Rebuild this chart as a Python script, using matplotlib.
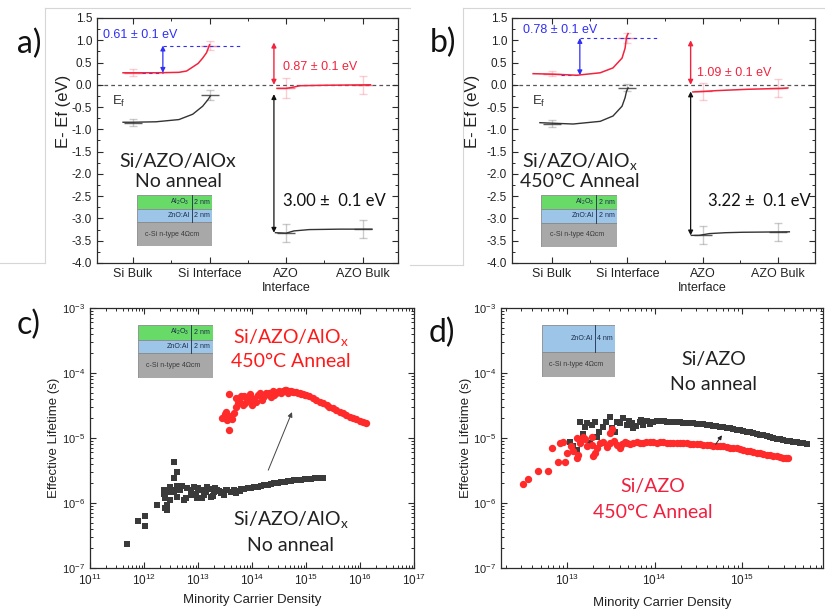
import numpy as np
import matplotlib
matplotlib.use('Agg')
import matplotlib.pyplot as plt
from matplotlib.patches import Rectangle
from matplotlib.lines import Line2D
from matplotlib.ticker import MultipleLocator, FixedLocator, LogLocator, NullFormatter, FormatStrFormatter

plt.rcParams['font.family'] = ['Liberation Sans', 'DejaVu Sans']
plt.rcParams['mathtext.fontset'] = 'custom'
plt.rcParams['mathtext.rm'] = 'Liberation Sans'
plt.rcParams['mathtext.it'] = 'Liberation Sans:italic'
plt.rcParams['mathtext.bf'] = 'Liberation Sans:bold'

# ---------------- data ----------------
categories = ['Si Bulk', 'Si Interface', 'AZO\nInterface', 'AZO Bulk']
cat_pos = [1, 2, 3, 4]

# panel a (no anneal) band diagram
a_si_cb_x = [0.87, 1.0, 1.3, 1.6, 1.7, 1.78, 1.85, 1.91, 1.96, 2.0]
a_si_cb_y = [0.27, 0.27, 0.27, 0.28, 0.31, 0.40, 0.48, 0.60, 0.72, 0.90]
a_si_vb_x = [0.87, 1.0, 1.3, 1.6, 1.78, 1.91, 1.98, 2.01]
a_si_vb_y = [-0.84, -0.84, -0.83, -0.78, -0.66, -0.48, -0.33, -0.25]
a_azo_cb_x = [2.88, 3.0, 3.1, 3.18, 3.5, 4.1]
a_azo_cb_y = [-0.08, -0.08, -0.05, -0.02, -0.01, 0.0]
a_azo_vb_x = [2.86, 3.0, 3.1, 3.3, 3.7, 4.12]
a_azo_vb_y = [-3.32, -3.33, -3.28, -3.25, -3.24, -3.24]
a_red_pts = [0.27, 0.88, -0.07, 0.0]
a_red_err = [0.08, 0.10, 0.22, 0.20]
a_blk_pts = [-0.85, -0.23, -3.32, -3.24]
a_blk_err = [0.08, 0.12, 0.20, 0.20]
a_values = ['0.61', '0.87', '3.00']

# panel b (450C anneal) band diagram
b_si_cb_x = [0.75, 1.0, 1.33, 1.64, 1.81, 1.93, 1.97, 1.99, 2.01]
b_si_cb_y = [0.25, 0.24, 0.215, 0.27, 0.38, 0.60, 0.82, 1.08, 1.15]
b_si_vb_x = [0.84, 1.28, 1.64, 1.81, 1.93, 1.97, 1.99, 2.01]
b_si_vb_y = [-0.85, -0.88, -0.82, -0.70, -0.48, -0.29, -0.14, -0.07]
b_azo_cb_x = [2.87, 3.0, 3.19, 3.6, 4.06, 4.13]
b_azo_cb_y = [-0.16, -0.15, -0.13, -0.10, -0.08, -0.07]
b_azo_vb_x = [2.85, 2.95, 3.09, 3.3, 3.53, 4.15]
b_azo_vb_y = [-3.38, -3.38, -3.34, -3.32, -3.31, -3.30]
b_red_pts = [0.25, 1.05, -0.15, -0.07]
b_red_err = [0.06, 0.12, 0.20, 0.20]
b_blk_pts = [-0.87, -0.07, -3.37, -3.30]
b_blk_err = [0.08, 0.08, 0.20, 0.20]
b_values = ['0.78', '1.09', '3.22']

# panel c lifetime: Si/AZO/AlOx
c_anneal_pts = [
    (2.8e13, 2.0e-5), (3.1e13, 2.3e-5), (3.5e13, 1.9e-5), (4.0e13, 2.2e-5), (4.7e13, 2.4e-5),
    (3.8e13, 1.33e-5), (3.7e13, 4.7e-5), (3.0e13, 2.1e-5), (3.3e13, 2.5e-5), (4.3e13, 1.95e-5),
    (5.0e13, 3.0e-5), (5.4e13, 3.4e-5), (5.0e13, 4.1e-5), (5.8e13, 3.7e-5), (6.2e13, 4.4e-5),
    (6.7e13, 3.2e-5), (7.0e13, 4.5e-5), (7.5e13, 3.5e-5), (8.3e13, 3.8e-5), (9.0e13, 4.8e-5),
    (9.5e13, 4.3e-5), (1.0e14, 3.2e-5), (1.1e14, 4.0e-5), (1.2e14, 3.6e-5), (1.3e14, 4.6e-5),
    (1.4e14, 4.9e-5), (1.5e14, 3.9e-5), (1.6e14, 4.2e-5), (1.7e14, 4.4e-5), (1.8e14, 5.0e-5),
    (1.95e14, 4.75e-5), (2.1e14, 4.9e-5), (2.25e14, 4.3e-5), (2.4e14, 5.2e-5), (2.6e14, 4.6e-5),
    (2.8e14, 5.0e-5), (3.0e14, 5.1e-5), (3.2e14, 5.35e-5), (3.5e14, 4.9e-5), (3.7e14, 5.2e-5),
    (4.0e14, 5.4e-5), (4.3e14, 5.45e-5), (4.6e14, 5.0e-5), (4.9e14, 5.2e-5), (5.3e14, 5.3e-5),
    (5.7e14, 5.05e-5), (6.1e14, 5.1e-5), (6.6e14, 5.05e-5), (7.1e14, 5.0e-5), (7.6e14, 4.9e-5),
    (8.2e14, 4.8e-5), (8.8e14, 4.7e-5), (9.4e14, 4.6e-5), (1.0e15, 4.55e-5), (1.16e15, 4.35e-5),
    (1.34e15, 4.1e-5), (1.55e15, 3.85e-5), (1.8e15, 3.6e-5), (2.06e15, 3.4e-5), (2.4e15, 3.2e-5),
    (2.7e15, 3.0e-5), (3.2e15, 2.85e-5), (3.65e15, 2.7e-5), (4.2e15, 2.55e-5), (4.9e15, 2.4e-5),
    (5.6e15, 2.25e-5), (6.5e15, 2.13e-5), (7.5e15, 2.03e-5), (8.6e15, 1.94e-5), (9.9e15, 1.85e-5),
    (1.15e16, 1.76e-5), (1.3e16, 1.7e-5)]
c_noanneal_pts = [
    (4.8e11, 2.3e-7), (7.9e11, 5.3e-7), (1.06e12, 6.4e-7), (1.06e12, 4.4e-7), (1.74e12, 9.3e-7),
    (2.3e12, 1.4e-6), (2.4e12, 8.5e-7), (2.5e12, 1.18e-6), (2.32e12, 1.58e-6), (2.68e12, 9.3e-7),
    (2.68e12, 7.8e-7), (2.88e12, 1.49e-6), (3.0e12, 1.1e-6), (3.09e12, 1.78e-6), (3.3e12, 1.6e-6),
    (3.56e12, 4.2e-6), (4.11e12, 3.0e-6), (3.56e12, 2.4e-6), (3.56e12, 1.49e-6), (4.0e12, 1.8e-6),
    (4.11e12, 1.25e-6), (4.74e12, 1.58e-6), (5.0e12, 1.8e-6), (5.47e12, 1.11e-6), (6.0e12, 1.2e-6),
    (6.31e12, 1.68e-6), (7.28e12, 1.33e-6), (7.5e12, 1.6e-6), (8.4e12, 1.78e-6), (9.0e12, 1.4e-6),
    (9.7e12, 1.18e-6), (1.0e13, 1.7e-6), (1.12e13, 1.58e-6), (1.2e13, 1.2e-6), (1.29e13, 1.33e-6),
    (1.4e13, 1.5e-6), (1.48e13, 1.78e-6), (1.6e13, 1.65e-6), (1.72e13, 1.25e-6), (1.9e13, 1.3e-6),
    (1.98e13, 1.49e-6), (2.1e13, 1.7e-6), (2.29e13, 1.58e-6), (2.5e13, 1.55e-6), (2.64e13, 1.41e-6),
    (3.0e13, 1.35e-6), (3.04e13, 1.49e-6), (3.3e13, 1.6e-6), (3.51e13, 1.58e-6), (4.05e13, 1.49e-6),
    (4.67e13, 1.58e-6), (5.0e13, 1.45e-6), (5.4e13, 1.55e-6), (6.0e13, 1.52e-6), (6.2e13, 1.64e-6),
    (7.2e13, 1.66e-6), (8.26e13, 1.68e-6), (9.5e13, 1.7e-6), (1.1e14, 1.74e-6), (1.27e14, 1.78e-6),
    (1.47e14, 1.83e-6), (1.69e14, 1.87e-6), (1.95e14, 1.91e-6), (2.25e14, 1.96e-6), (2.6e14, 2.01e-6),
    (3.0e14, 2.05e-6), (3.45e14, 2.08e-6), (4.0e14, 2.12e-6), (4.6e14, 2.15e-6), (5.3e14, 2.19e-6),
    (6.1e14, 2.23e-6), (7.0e14, 2.26e-6), (8.1e14, 2.29e-6), (9.4e14, 2.31e-6), (1.08e15, 2.34e-6),
    (1.25e15, 2.37e-6), (1.44e15, 2.4e-6), (1.6e15, 2.41e-6), (1.79e15, 2.42e-6), (2.06e15, 2.45e-6)]

# panel d lifetime: Si/AZO
d_noanneal_pts = [
    (1.08e13, 8.8e-6), (1.18e13, 7.4e-6), (1.29e13, 6.5e-6), (1.41e13, 1.78e-5), (1.54e13, 1.15e-5),
    (1.61e13, 1.49e-5), (1.7e13, 1.7e-5), (1.83e13, 8.3e-6), (1.92e13, 1.58e-5), (2.09e13, 1.78e-5),
    (2.18e13, 1.05e-5), (2.3e13, 1.25e-5), (2.6e13, 1.49e-5), (2.8e13, 1.75e-5), (3.1e13, 2.13e-5),
    (3.24e13, 1.41e-5), (3.5e13, 1.25e-5), (3.7e13, 1.78e-5), (4.0e13, 1.7e-5), (4.41e13, 2.01e-5),
    (4.81e13, 1.58e-5), (5.1e13, 1.85e-5), (5.48e13, 1.68e-5), (5.73e13, 1.41e-5), (6.2e13, 1.55e-5),
    (6.83e13, 1.78e-5), (7.0e13, 1.9e-5), (7.45e13, 1.58e-5), (8.13e13, 1.85e-5), (8.8e13, 1.65e-5),
    (9.7e13, 1.74e-5), (1.06e14, 1.8e-5), (1.16e14, 1.83e-5), (1.27e14, 1.8e-5), (1.38e14, 1.78e-5),
    (1.5e14, 1.77e-5), (1.64e14, 1.76e-5), (1.8e14, 1.75e-5), (1.95e14, 1.74e-5), (2.13e14, 1.73e-5),
    (2.33e14, 1.72e-5), (2.55e14, 1.7e-5), (2.78e14, 1.68e-5), (3.03e14, 1.66e-5), (3.31e14, 1.64e-5),
    (3.62e14, 1.62e-5), (3.95e14, 1.6e-5), (4.3e14, 1.58e-5), (4.7e14, 1.55e-5), (5.1e14, 1.52e-5),
    (5.61e14, 1.49e-5), (6.1e14, 1.47e-5), (6.68e14, 1.44e-5), (7.3e14, 1.41e-5), (7.96e14, 1.38e-5),
    (8.7e14, 1.35e-5), (9.5e14, 1.31e-5), (1.04e15, 1.28e-5), (1.13e15, 1.25e-5), (1.23e15, 1.22e-5),
    (1.35e15, 1.19e-5), (1.47e15, 1.15e-5), (1.61e15, 1.12e-5), (1.75e15, 1.1e-5), (1.91e15, 1.07e-5),
    (2.09e15, 1.04e-5), (2.28e15, 1.01e-5), (2.49e15, 9.8e-6), (2.72e15, 9.5e-6), (2.97e15, 9.3e-6),
    (3.24e15, 9.1e-6), (3.54e15, 8.9e-6), (3.86e15, 8.7e-6), (4.2e15, 8.55e-6), (4.6e15, 8.4e-6),
    (5.0e15, 8.25e-6), (5.48e15, 8.1e-6)]
d_anneal_pts = [
    (3.17e12, 1.94e-6), (3.61e12, 2.31e-6), (4.7e12, 3.1e-6), (6.12e12, 3.1e-6), (6.68e12, 6.9e-6),
    (7.96e12, 4.33e-6), (8.32e12, 8.3e-6), (9.08e12, 8.8e-6), (9.5e12, 4.33e-6), (9.9e12, 5.8e-6),
    (1.1e13, 7.5e-6), (1.18e13, 6.2e-6), (1.29e13, 9.9e-6), (1.29e13, 4.86e-6), (1.35e13, 5.5e-6),
    (1.41e13, 8.3e-6), (1.54e13, 1.05e-5), (1.6e13, 9.5e-6), (1.68e13, 7.4e-6), (1.92e13, 1.05e-5),
    (1.92e13, 7.8e-6), (2.0e13, 5.2e-6), (2.09e13, 5.8e-6), (2.2e13, 7.0e-6), (2.38e13, 8.3e-6),
    (2.6e13, 8.8e-6), (2.9e13, 7.2e-6), (3.1e13, 1.18e-5), (3.1e13, 8.3e-6), (3.24e13, 1.36e-5),
    (3.4e13, 9.0e-6), (3.7e13, 7.8e-6), (4.04e13, 6.9e-6), (4.3e13, 8.0e-6), (4.6e13, 8.8e-6),
    (4.9e13, 8.4e-6), (5.25e13, 8.1e-6), (5.7e13, 8.5e-6), (6.25e13, 8.8e-6), (6.8e13, 8.4e-6),
    (7.45e13, 8.3e-6), (8.1e13, 8.7e-6), (8.9e13, 8.8e-6), (9.7e13, 8.6e-6), (1.06e14, 8.5e-6),
    (1.16e14, 8.6e-6), (1.26e14, 8.6e-6), (1.38e14, 8.5e-6), (1.5e14, 8.5e-6), (1.64e14, 8.45e-6),
    (1.79e14, 8.4e-6), (1.96e14, 8.35e-6), (2.14e14, 8.3e-6), (2.34e14, 8.25e-6), (2.55e14, 8.2e-6),
    (2.78e14, 8.15e-6), (3.03e14, 8.1e-6), (3.31e14, 8.0e-6), (3.61e14, 7.9e-6), (3.95e14, 7.8e-6),
    (4.31e14, 7.7e-6), (4.7e14, 7.6e-6), (5.13e14, 7.5e-6), (5.6e14, 7.45e-6), (6.12e14, 7.4e-6),
    (6.68e14, 7.25e-6), (7.29e14, 7.1e-6), (7.96e14, 7.0e-6), (8.69e14, 6.9e-6), (9.5e14, 6.7e-6),
    (1.04e15, 6.5e-6), (1.13e15, 6.35e-6), (1.23e15, 6.2e-6), (1.35e15, 6.05e-6), (1.47e15, 5.9e-6),
    (1.6e15, 5.8e-6), (1.75e15, 5.7e-6), (1.91e15, 5.55e-6), (2.09e15, 5.4e-6), (2.28e15, 5.3e-6),
    (2.49e15, 5.2e-6), (2.72e15, 5.1e-6), (2.97e15, 5.0e-6), (3.18e15, 4.95e-6), (3.39e15, 4.9e-6)]

# ---------------- style ----------------
W, H = 825, 610
RED = '#f2233d'
BLUE = '#2f2ff5'
DARK = '#2b2b2b'
SQ = '#3a3a3a'
CIRC = '#ff2a2a'
HUM = ['Lato', 'DejaVu Sans']

fig = plt.figure(figsize=(W / 100, H / 100), dpi=100)
fig.patch.set_facecolor('white')


def add_ax(l, t, r, b):
    return fig.add_axes([l / W, 1 - b / H, (r - l) / W, (b - t) / H])


def fig_line(xs, ys, color='#d6d6d6', lw=0.8):
    fig.add_artist(Line2D([x / W for x in xs], [1 - y / H for y in ys],
                          color=color, lw=lw, transform=fig.transFigure))


# faint frame artifacts from the source screenshot
fig_line([0, 45], [263, 263])
fig_line([45, 45], [8, 263])
fig_line([45, 410], [8, 8])
fig_line([410, 463], [265, 265])
fig_line([463, 463], [8, 265])
fig_line([463, 825], [8, 8])


def style_frame(ax):
    for s in ax.spines.values():
        s.set_color(DARK)
        s.set_linewidth(0.9)
    ax.tick_params(which='both', direction='in', top=True, right=True,
                   colors=DARK, labelcolor='#222222')
    ax.tick_params(which='major', length=4, width=0.8)
    ax.tick_params(which='minor', length=2, width=0.7)


def stack_inset(l, t, r, b, layers, div_frac, div_layers):
    ia = add_ax(l, t, r, b)
    ia.set_xlim(0, 1)
    ia.set_ylim(0, 1)
    ia.axis('off')
    total = sum(h for h, _, _, _ in layers)
    top = 1.0
    for i, (h, col, lab, thick) in enumerate(layers):
        hh = h / total
        ia.add_patch(Rectangle((0, top - hh), 1, hh, facecolor=col, edgecolor='#8a8a8a', lw=0.6))
        cy = top - hh / 2
        if i < div_layers:
            ia.text(div_frac - 0.03, cy, lab, ha='right', va='center', fontsize=5, color='#1c2b4a')
            ia.text(div_frac + 0.03, cy, thick, ha='left', va='center', fontsize=5, color='#1c2b4a')
        else:
            ia.text(0.47, cy, lab, ha='center', va='center', fontsize=5, color='#3a3a3a')
        top -= hh
    if div_layers:
        ia.plot([div_frac, div_frac], [1.0, 1.0 - sum(h for h, _, _, _ in layers[:div_layers]) / total],
                color='#1c2b4a', lw=0.6)
    return ia


GREEN = '#68da68'
LBLUE = '#9cc5e8'
GRAY = '#a8a8a8'
stack3 = [(14, GREEN, 'Al$_2$O$_3$', '2 nm'), (13, LBLUE, 'ZnO:Al', '2 nm'),
          (24, GRAY, 'c-Si n-type 4Ωcm', '')]
stack2 = [(27, LBLUE, 'ZnO:Al', '4 nm'), (25, GRAY, 'c-Si n-type 4Ωcm', '')]


def band_panel(rect, xlim, d):
    ax = add_ax(*rect)
    ax.set_xlim(*xlim)
    ax.set_ylim(-4.0, 1.5)
    ax.axhline(0, color='#555555', lw=0.9, dashes=(3, 2.5), zorder=1)
    # error bars and level markers
    ax.errorbar(cat_pos, d['red_pts'], yerr=d['red_err'], fmt='none', ecolor=RED, alpha=0.22,
                elinewidth=1.0, capsize=3, zorder=2)
    ax.errorbar(cat_pos, d['blk_pts'], yerr=d['blk_err'], fmt='none', ecolor='#555555', alpha=0.3,
                elinewidth=1.0, capsize=3, zorder=2)
    ax.plot(cat_pos, d['red_pts'], ls='none', marker='_', ms=13, mew=1.0, color=RED, alpha=0.55, zorder=3)
    ax.plot(cat_pos, d['blk_pts'], ls='none', marker='_', ms=13, mew=1.0, color='#333333', alpha=0.8, zorder=3)
    # band curves
    ax.plot(d['si_cb_x'], d['si_cb_y'], color=RED, lw=1.1, zorder=4)
    ax.plot(d['si_vb_x'], d['si_vb_y'], color='#333333', lw=1.0, zorder=4)
    ax.plot(d['azo_cb_x'], d['azo_cb_y'], color=RED, lw=1.1, zorder=4)
    ax.plot(d['azo_vb_x'], d['azo_vb_y'], color='#333333', lw=1.0, zorder=4)
    # band bending arrow (blue)
    cb0 = d['si_cb_y'][2]
    top = d['red_pts'][1]
    ax.plot([d['bx'], 2.42], [top, top], color=BLUE, lw=0.8, dashes=(3, 3), zorder=3)
    ax.plot([1.12, d['bx']], [cb0, cb0], color=BLUE, lw=0.8, dashes=(3, 3), zorder=3)
    ax.annotate('', xy=(d['bx'], top), xytext=(d['bx'], cb0),
                arrowprops=dict(arrowstyle='<|-|>', color=BLUE, lw=0.9, mutation_scale=7,
                                shrinkA=0, shrinkB=0))
    ax.text(0.61, d['blue_ty'], d['vals'][0] + ' ± 0.1 eV', color=BLUE, fontsize=9,
            ha='left', va='center')
    # red arrow at AZO interface
    ax.annotate('', xy=(2.84, d['red_top']), xytext=(2.84, 0.0),
                arrowprops=dict(arrowstyle='<|-|>', color=RED, lw=1.0, mutation_scale=7,
                                shrinkA=0, shrinkB=0))
    ax.text(d['red_tx'], d['red_ty'], d['vals'][1] + ' ± 0.1 eV', color=RED, fontsize=9,
            ha='left', va='center')
    # black arrow (gap)
    ax.annotate('', xy=(2.84, d['azo_vb_y'][0]), xytext=(2.84, d['blk_top']),
                arrowprops=dict(arrowstyle='<|-|>', color='#111111', lw=0.9, mutation_scale=7,
                                shrinkA=0, shrinkB=0))
    ax.text(d['gap_tx'], -2.6, d['vals'][2] + ' ±  0.1 eV', color='#111111', fontsize=12,
            family=HUM, ha='left', va='center')
    ax.text(0.73, -0.38, 'E$_\\mathregular{f}$', color='#333333', fontsize=9.5, ha='left', va='center')
    ax.text(d['lab_x'], -1.73, d['lab1'], fontsize=14, family=HUM, ha='center', va='center', color='#222222')
    ax.text(d['lab_x'], -2.16, d['lab2'], fontsize=14, family=HUM, ha='center', va='center', color='#222222')
    # axes styling
    ax.set_xticks(cat_pos)
    ax.set_xticklabels(categories, fontsize=9)
    ax.xaxis.set_minor_locator(FixedLocator([1.5, 2.5, 3.5]))
    ax.yaxis.set_major_locator(MultipleLocator(0.5))
    ax.yaxis.set_minor_locator(MultipleLocator(0.25))
    ax.yaxis.set_major_formatter(FormatStrFormatter('%.1f'))
    ax.tick_params(axis='y', labelsize=8.5)
    style_frame(ax)
    ax.set_ylabel('E- Ef (eV)', fontsize=12, color='#222222')
    return ax


axa = band_panel((97, 18, 398, 263), (0.53, 4.46), dict(
    si_cb_x=a_si_cb_x, si_cb_y=a_si_cb_y, si_vb_x=a_si_vb_x, si_vb_y=a_si_vb_y,
    azo_cb_x=a_azo_cb_x, azo_cb_y=a_azo_cb_y, azo_vb_x=a_azo_vb_x, azo_vb_y=a_azo_vb_y,
    red_pts=a_red_pts, red_err=a_red_err, blk_pts=a_blk_pts, blk_err=a_blk_err, vals=a_values,
    bx=1.39, blue_ty=1.12, red_top=0.95, red_tx=2.96, red_ty=0.41, blk_top=-0.21, gap_tx=2.96,
    lab_x=1.59, lab1='Si/AZO/AlOx', lab2='No anneal'))
axa.yaxis.set_label_coords(-0.086, 0.62)

axb = band_panel((512, 18, 815, 263), (0.47, 4.49), dict(
    si_cb_x=b_si_cb_x, si_cb_y=b_si_cb_y, si_vb_x=b_si_vb_x, si_vb_y=b_si_vb_y,
    azo_cb_x=b_azo_cb_x, azo_cb_y=b_azo_cb_y, azo_vb_x=b_azo_vb_x, azo_vb_y=b_azo_vb_y,
    red_pts=b_red_pts, red_err=b_red_err, blk_pts=b_blk_pts, blk_err=b_blk_err, vals=b_values,
    bx=1.37, blue_ty=1.23, red_top=1.0, red_tx=2.93, red_ty=0.27, blk_top=-0.15, gap_tx=3.07,
    lab_x=1.37, lab1='Si/AZO/AlO$_\\mathregular{x}$', lab2='450°C Anneal'))
axb.yaxis.set_label_coords(-0.106, 0.62)

stack_inset(137, 195, 212, 246, stack3, 0.73, 2)
stack_inset(541, 195, 617, 247, stack3, 0.73, 2)


def life_panel(rect, xlim):
    ax = add_ax(*rect)
    ax.set_xscale('log')
    ax.set_yscale('log')
    ax.set_xlim(*xlim)
    ax.set_ylim(1e-7, 1e-3)
    ax.xaxis.set_major_locator(LogLocator(base=10, numticks=20))
    ax.xaxis.set_minor_locator(LogLocator(base=10, subs=np.arange(2, 10), numticks=40))
    ax.yaxis.set_major_locator(LogLocator(base=10, numticks=20))
    ax.yaxis.set_minor_locator(LogLocator(base=10, subs=np.arange(2, 10), numticks=40))
    ax.xaxis.set_minor_formatter(NullFormatter())
    ax.yaxis.set_minor_formatter(NullFormatter())
    ax.tick_params(axis='x', labelsize=8.5)
    ax.tick_params(axis='y', labelsize=8)
    style_frame(ax)
    ax.set_xlabel('Minority Carrier Density', fontsize=9.5, color='#222222')
    ax.set_ylabel('Effective Lifetime (s)', fontsize=9.5, color='#222222')
    return ax


axc = life_panel((90, 308, 414, 568), (1e11, 1e17))
xs, ys = zip(*c_noanneal_pts)
axc.scatter(xs, ys, marker='s', s=22, color=SQ, linewidths=0, zorder=3)
xs, ys = zip(*c_anneal_pts)
axc.scatter(xs, ys, marker='o', s=28, color=CIRC, linewidths=0, zorder=3)
axc.annotate('', xy=(5.5e14, 2.5e-5), xytext=(2.0e14, 3.2e-6),
             arrowprops=dict(arrowstyle='-|>', color='#444444', lw=0.7, mutation_scale=7,
                             shrinkA=0, shrinkB=0))
axc.text(5.2e14, 3.5e-4, 'Si/AZO/AlO$_\\mathregular{x}$', color='#ff1a1a', fontsize=14, family=HUM,
         ha='center', va='center')
axc.text(5.2e14, 1.5e-4, '450°C Anneal', color='#ff1a1a', fontsize=14, family=HUM,
         ha='center', va='center')
axc.text(5.2e14, 5.5e-7, 'Si/AZO/AlO$_\\mathregular{x}$', color='#222222', fontsize=14, family=HUM,
         ha='center', va='center')
axc.text(5.2e14, 2.2e-7, 'No anneal', color='#222222', fontsize=14, family=HUM,
         ha='center', va='center')
axc.yaxis.set_label_coords(-0.093, 0.5)
axc.xaxis.set_label_coords(0.5, -0.1)

axd = life_panel((501, 308, 823, 568), (1.76e12, 8.43e15))
xs, ys = zip(*d_noanneal_pts)
axd.scatter(xs, ys, marker='s', s=22, color=SQ, linewidths=0, zorder=3)
xs, ys = zip(*d_anneal_pts)
axd.scatter(xs, ys, marker='o', s=28, color=CIRC, linewidths=0, zorder=3)
axd.annotate('', xy=(5.9e14, 1.1e-5), xytext=(5.0e14, 8.0e-6),
             arrowprops=dict(arrowstyle='-|>', color='#222222', lw=0.7, mutation_scale=6,
                             shrinkA=0, shrinkB=0), zorder=5)
axd.text(4.7e14, 1.6e-4, 'Si/AZO', color='#222222', fontsize=14, family=HUM, ha='center', va='center')
axd.text(4.7e14, 6.6e-5, 'No anneal', color='#222222', fontsize=14, family=HUM, ha='center', va='center')
axd.text(9.5e13, 1.8e-6, 'Si/AZO', color='#f0203e', fontsize=14, family=HUM, ha='center', va='center')
axd.text(9.5e13, 7.2e-7, '450°C Anneal', color='#f0203e', fontsize=14, family=HUM, ha='center', va='center')
axd.yaxis.set_label_coords(-0.09, 0.5)
axd.xaxis.set_label_coords(0.5, -0.11)

stack_inset(138, 325, 213, 378, stack3, 0.71, 2)
stack_inset(542, 325, 615, 377, stack2, 0.73, 1)

# panel letters
for lab, x, y in [('a)', 29, 44), ('b)', 443, 43), ('c)', 29, 325), ('d)', 442, 333)]:
    fig.text(x / W, 1 - y / H, lab, fontsize=23, family=HUM, ha='center', va='center', color='#111111')

fig.savefig('out.png', dpi=100, facecolor='white')
